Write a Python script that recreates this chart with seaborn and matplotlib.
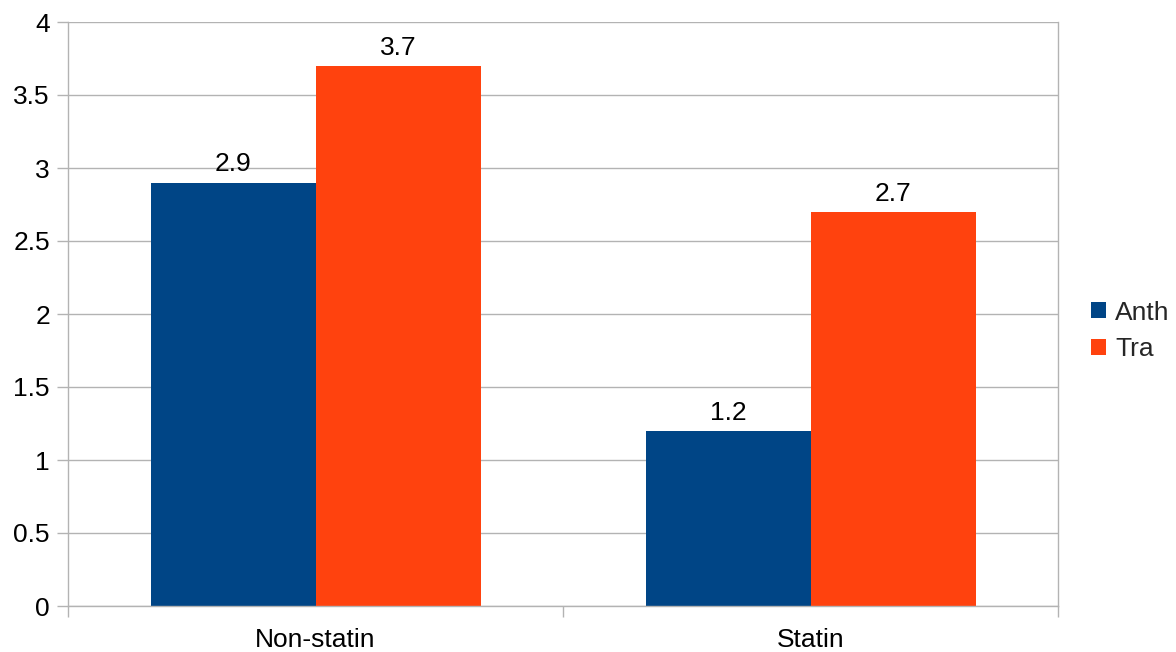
import matplotlib
matplotlib.use("Agg")
import matplotlib.pyplot as plt
import seaborn as sns
import pandas as pd
from matplotlib.ticker import FixedLocator, MultipleLocator

# Data
groups = ["Non-statin", "Statin"]
series = ["Anth", "Tra"]
anth_values = [2.9, 1.2]
tra_values = [3.7, 2.7]
colors = ["#004586", "#ff420e"]

df = pd.DataFrame({
    "group": groups * 2,
    "series": [series[0]] * 2 + [series[1]] * 2,
    "value": anth_values + tra_values,
})

sns.set_theme(style="white")
plt.rcParams["font.family"] = ["Liberation Sans", "DejaVu Sans"]

FS = 19

fig = plt.figure(figsize=(11.76, 6.52), dpi=100)
W, H = 1176, 652
ax = fig.add_axes([68 / W, 1 - 606 / H, (1058 - 68) / W, (606 - 22) / H])

sns.barplot(data=df, x="group", y="value", hue="series", hue_order=series,
            order=groups, palette=colors, width=2 / 3, saturation=1,
            edgecolor="none", linewidth=0, ax=ax, legend=True)

grid_c = "#b3b3b3"
ax.set_xlim(-0.5, 1.5)
ax.set_ylim(0, 4)
ax.yaxis.set_major_locator(MultipleLocator(0.5))
ax.set_yticklabels([f"{v:g}" for v in ax.get_yticks()])
ax.grid(axis="y", color=grid_c, linewidth=1)
ax.set_axisbelow(True)

# category boundaries as major ticks, labels on minor ticks
ax.xaxis.set_major_locator(FixedLocator([-0.5, 0.5, 1.5]))
ax.xaxis.set_minor_locator(FixedLocator([0, 1]))
ax.set_xticklabels([], minor=False)
ax.set_xticklabels(groups, minor=True)
ax.tick_params(axis="x", which="major", length=8, width=1, color=grid_c, direction="out", bottom=True)
ax.tick_params(axis="x", which="minor", length=0, pad=16, labelsize=FS, labelcolor="black")
ax.tick_params(axis="y", length=8, width=1, color=grid_c, direction="out", left=True,
               pad=5, labelsize=FS, labelcolor="black")

for side in ["left", "right", "bottom"]:
    ax.spines[side].set_visible(True)
    ax.spines[side].set_color(grid_c)
    ax.spines[side].set_linewidth(1)
ax.spines["top"].set_visible(False)

ax.set_xlabel("")
ax.set_ylabel("")

for cont in ax.containers:
    ax.bar_label(cont, labels=[f"{v:g}" for v in cont.datavalues], padding=4.5,
                 fontsize=FS, color="black")

handles, labels = ax.get_legend_handles_labels()
ax.legend(handles, labels, loc="center left", bbox_to_anchor=(1091 / W, 1 - 331 / H),
          bbox_transform=fig.transFigure, frameon=False, fontsize=FS,
          handlelength=0.57, handleheight=0.57, handletextpad=0.34, labelspacing=0.48,
          borderaxespad=0, borderpad=0)

fig.savefig("out.png", dpi=100)
